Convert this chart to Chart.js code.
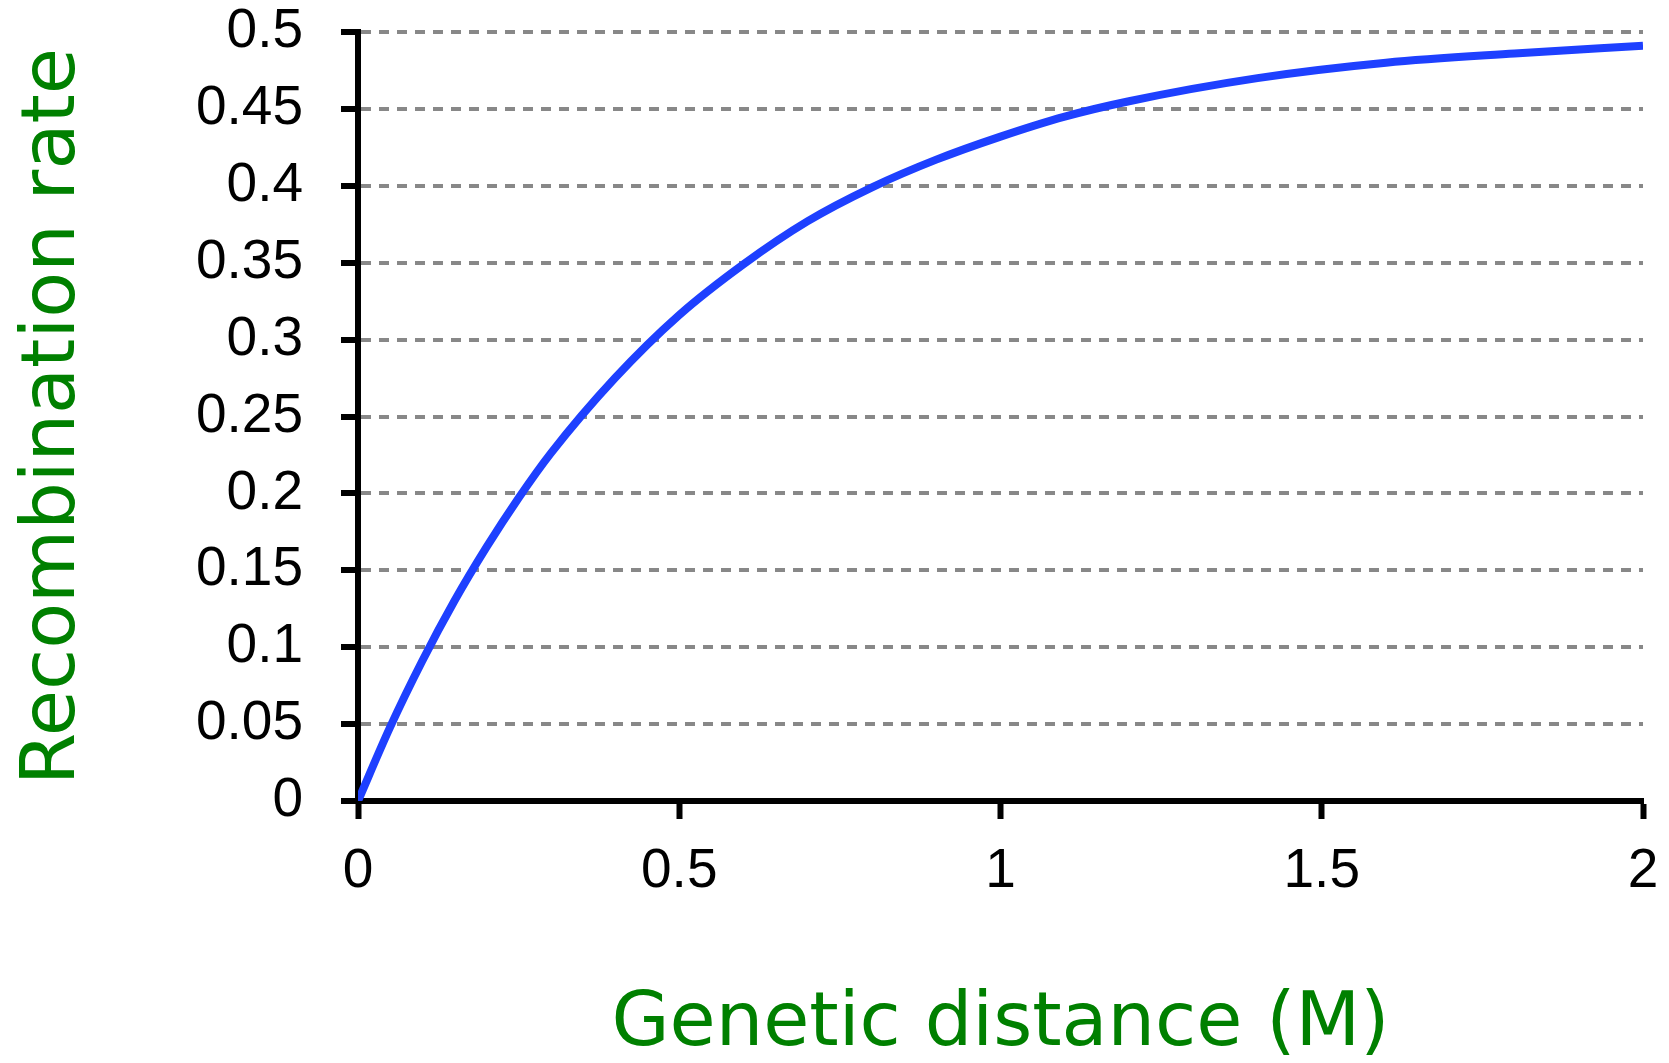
<!DOCTYPE html>
<html lang="en">

<head>
    <meta charset="UTF-8">
    <title>Recombination rate vs genetic distance</title>
    <script src="https://cdn.jsdelivr.net/npm/chart.js"></script>
    <style>
        body { margin: 0; background: #fff; }
        .chart-wrapper { width: 1669px; height: 1063px; position: relative; }
    </style>
</head>

<body>
    <div class="chart-wrapper">
        <canvas id="mapChart"></canvas>
    </div>

    <script>
        // distance (M) and recombination rate
        const distancia = [0, 0.05, 0.1, 0.15, 0.2, 0.25, 0.3, 0.4, 0.5, 0.6, 0.7, 0.8, 0.9, 1.0, 1.1, 1.2, 1.4, 1.6, 1.8, 2.0];
        const taxa = [0, 0.048, 0.091, 0.13, 0.165, 0.197, 0.226, 0.275, 0.316, 0.349, 0.377, 0.399, 0.417, 0.432, 0.445, 0.455, 0.47, 0.48, 0.486, 0.491];

        const xTicks = [0, 0.5, 1, 1.5, 2];
        const xTickLabels = ['0', '0.5', '1', '1.5', '2'];
        const yTicks = [0, 0.05, 0.1, 0.15, 0.2, 0.25, 0.3, 0.35, 0.4, 0.45, 0.5];
        const yTickLabels = ['0', '0.05', '0.1', '0.15', '0.2', '0.25', '0.3', '0.35', '0.4', '0.45', '0.5'];

        const tituloFont = { family: "'Comic Sans MS', 'DejaVu Sans', sans-serif", size: 75, lineHeight: 1.0 };
        const tickFont = { family: "'Liberation Sans', Arial, sans-serif", size: 55 };

        const mapChart = new Chart(document.getElementById('mapChart'), {
            type: 'line',
            data: {
                datasets: [{
                    data: distancia.map((d, i) => ({ x: d, y: taxa[i] })),
                    borderColor: '#1e40ff',
                    borderWidth: 8,
                    pointRadius: 0,
                    cubicInterpolationMode: 'monotone',
                    fill: false
                }]
            },
            options: {
                responsive: true,
                maintainAspectRatio: false,
                animation: false,
                layout: { padding: { top: 32, right: 26, left: 0, bottom: 0 } },
                plugins: { legend: { display: false }, tooltip: { enabled: false } },
                scales: {
                    x: {
                        type: 'linear',
                        min: 0,
                        max: 2,
                        afterBuildTicks: s => { s.ticks = xTicks.map(v => ({ value: v })); },
                        afterFit: s => { s.height = 262; s.paddingLeft = 0; s.paddingRight = 0; },
                        ticks: {
                            color: '#000', font: tickFont, padding: 20, maxRotation: 0,
                            callback: v => xTickLabels[xTicks.indexOf(v)]
                        },
                        grid: { drawOnChartArea: false, drawTicks: true, tickLength: 18, tickWidth: 6, tickColor: '#000' },
                        border: { color: '#000', width: 6 },
                        title: { display: true, text: 'Genetic distance (M)', color: '#008000', font: tituloFont, padding: { top: 0, bottom: 0 } }
                    },
                    y: {
                        min: 0,
                        max: 0.5,
                        afterBuildTicks: s => { s.ticks = yTicks.map(v => ({ value: v })); },
                        afterFit: s => { s.width = 358; s.paddingTop = 0; s.paddingBottom = 0; },
                        ticks: {
                            color: '#000', font: tickFont, padding: 38,
                            callback: v => yTickLabels[yTicks.indexOf(v)]
                        },
                        grid: { color: '#888', lineWidth: 4, drawTicks: true, tickLength: 17, tickWidth: 6, tickColor: '#000' },
                        border: { color: '#000', width: 6, dash: [10, 8] },
                        title: { display: true, text: 'Recombination rate', color: '#008000', font: tituloFont, padding: { top: 17, bottom: 0 } }
                    }
                }
            }
        });
    </script>
</body>

</html>
